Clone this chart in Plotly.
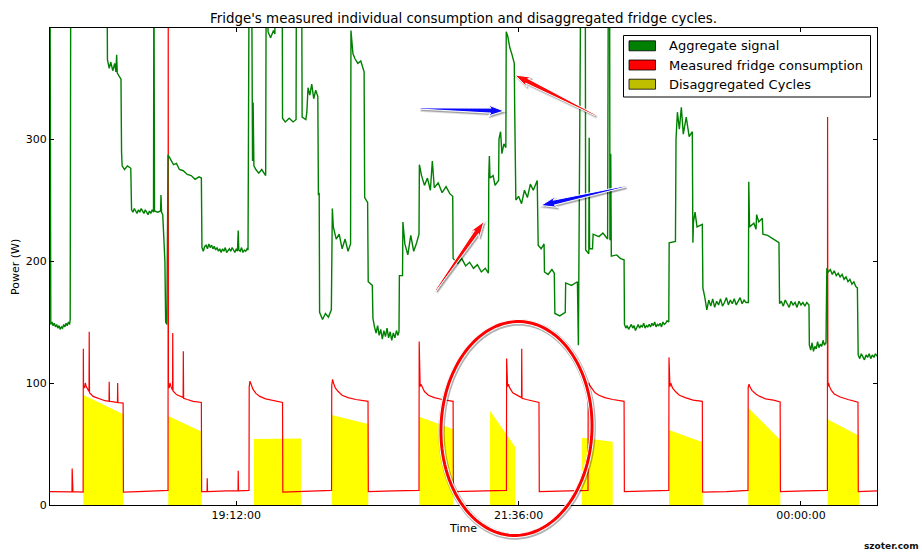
import numpy as np
import pandas as pd
import plotly.graph_objects as go

# ---------------------------------------------------------------- data
# time axis: minutes after 17:37:00
START = pd.Timestamp("2013-05-14 17:37:00")
SPAN_MIN = 421.8

# aggregate household signal: (minute, W)
agg_points = [
    (0.0, 460), (0.4, 148), (1.0, 150), (1.6, 147), (2.2, 149), (2.8, 146), (3.4, 148), (4.0, 145),
    (4.6, 147), (5.2, 144), (5.8, 146), (6.4, 145), (7.0, 148), (7.6, 146), (8.2, 149), (8.8, 147),
    (9.4, 150), (10.0, 148), (10.3, 152), (10.6, 460),
    (29.0, 460), (29.3, 365), (30.2, 358), (31.0, 363), (32.0, 356), (33.0, 362), (33.6, 355),
    (34.0, 369), (34.3, 354), (35.2, 352), (36.2, 349), (36.5, 289), (36.8, 278), (38.0, 275),
    (39.5, 278), (41.2, 276),
    (41.6, 242), (42.3, 240), (43.0, 243), (43.7, 241), (44.4, 239), (45.1, 242), (45.8, 240),
    (46.5, 243), (47.2, 241), (47.9, 239), (48.6, 242), (49.3, 240), (50.0, 238), (50.7, 241),
    (51.4, 239), (52.1, 242), (52.8, 240), (53.0, 460), (53.3, 241), (55.0, 240), (56.4, 241),
    (56.6, 254), (56.9, 240), (57.5, 238), (58.0, 212), (58.6, 200), (59.0, 150), (59.6, 148),
    (60.2, 287), (61.5, 283), (63.0, 279), (64.5, 280), (66.0, 275), (68.0, 274), (70.0, 271),
    (72.0, 270), (74.0, 267), (76.0, 269), (77.2, 268),
    (77.5, 211), (78.2, 208), (78.9, 212), (79.6, 213), (80.3, 210), (81.0, 214), (81.7, 211),
    (82.4, 213), (83.1, 210), (83.8, 212), (84.5, 209), (85.2, 211), (85.9, 208), (86.6, 210),
    (87.3, 207), (88.0, 210), (88.7, 208), (89.4, 211), (90.1, 207), (90.8, 209), (91.5, 210),
    (92.2, 208), (92.9, 211), (93.6, 209), (94.3, 207), (95.0, 210), (95.6, 208), (96.0, 225),
    (96.3, 209), (97.0, 208), (97.7, 211), (98.4, 207), (99.1, 209), (99.8, 208), (100.5, 210),
    (101.0, 209), (101.2, 369), (101.6, 460), (102.8, 460), (103.0, 336), (103.3, 282),
    (103.6, 330), (104.0, 278), (105.0, 275), (106.5, 272), (108.0, 275), (110.0, 270),
    (110.3, 460), (111.0, 460), (111.2, 388), (112.5, 383), (114.0, 389), (114.7, 386),
    (114.9, 460), (118.4, 460), (118.6, 317), (120.0, 314), (122.0, 317), (124.0, 314),
    (125.5, 316), (125.7, 460), (128.3, 460), (128.6, 318), (130.5, 316), (131.0, 322),
    (131.6, 342), (132.5, 336), (133.5, 345), (134.5, 333), (135.5, 340), (136.6, 335),
    (136.9, 254), (137.3, 256), (137.5, 158), (139.0, 152), (140.5, 157), (142.0, 154),
    (143.5, 160), (143.7, 238), (144.0, 243), (144.5, 228), (146.0, 218), (147.5, 222),
    (149.0, 210), (150.5, 218), (152.0, 208), (153.3, 214), (153.5, 389), (154.5, 370),
    (155.5, 366), (157.0, 362), (158.5, 364), (160.2, 355), (160.5, 252), (162.0, 248),
    (162.3, 183), (164.4, 180),
    (164.7, 153), (165.5, 146), (166.3, 141), (167.1, 147), (167.9, 139), (168.7, 144),
    (169.5, 136), (170.3, 143), (171.1, 138), (171.9, 145), (172.7, 137), (173.5, 142),
    (174.3, 135), (175.1, 141), (175.9, 137), (176.7, 143), (177.5, 139), (178.0, 142),
    (178.2, 188), (179.8, 188), (180.0, 232), (181.0, 214), (182.5, 205), (184.0, 221),
    (185.5, 208), (187.0, 215), (188.2, 222), (188.4, 279), (189.5, 270), (191.0, 262),
    (192.5, 268), (194.0, 258), (195.0, 282), (196.0, 260), (198.0, 264), (200.0, 256),
    (202.0, 261), (204.0, 255), (205.4, 253), (205.6, 202), (208.0, 198), (210.0, 202),
    (212.0, 196), (214.0, 199), (216.0, 194), (218.0, 197), (220.0, 191), (222.0, 194),
    (223.6, 190), (223.8, 270), (224.1, 286), (224.4, 268), (226.0, 270), (227.0, 262),
    (228.8, 266), (229.0, 300), (229.8, 306), (230.5, 288), (231.5, 296), (232.5, 293),
    (232.7, 388), (233.5, 384), (234.5, 375), (235.5, 370), (236.8, 362), (237.0, 326),
    (237.6, 250), (239.0, 253), (240.5, 247), (242.0, 258), (243.5, 252), (245.0, 263),
    (246.5, 258), (248.5, 266), (249.0, 213), (250.5, 210), (252.0, 214), (252.2, 191),
    (254.0, 189), (256.0, 193), (257.2, 190), (257.5, 157), (260.0, 155), (262.8, 158),
    (263.0, 182), (266.0, 180), (269.0, 183), (269.5, 131), (270.8, 460), (273.0, 460),
    (273.2, 209), (274.8, 206), (275.0, 301), (275.2, 210), (276.7, 210), (277.0, 222),
    (280.0, 220), (282.0, 223), (284.4, 218), (284.8, 460), (285.4, 460), (285.6, 217),
    (286.0, 288), (286.3, 204), (289.0, 205), (291.0, 202), (292.8, 201),
    (293.0, 148), (293.7, 145), (294.4, 147), (295.1, 144), (295.8, 146), (296.5, 148),
    (297.2, 145), (297.9, 147), (298.6, 143), (299.3, 146), (300.0, 148), (300.7, 145),
    (301.4, 147), (302.1, 146), (302.8, 149), (303.5, 145), (304.2, 147), (304.9, 146),
    (305.6, 148), (306.3, 146), (307.0, 149), (307.7, 147), (308.4, 150), (309.1, 146),
    (309.8, 148), (310.5, 147), (311.2, 149), (311.9, 146), (312.6, 150), (313.3, 148),
    (314.0, 149), (314.7, 151), (315.6, 150),
    (315.8, 215), (319.0, 216), (319.3, 300), (320.0, 322), (321.0, 308), (322.0, 326),
    (323.0, 304), (324.5, 318), (326.0, 302), (327.6, 306), (327.9, 215), (328.2, 232),
    (329.0, 240), (330.0, 228), (332.7, 230),
    (333.0, 178), (334.0, 170), (335.0, 160), (336.0, 168), (337.0, 163), (338.0, 169),
    (339.0, 162), (340.0, 167), (341.0, 164), (342.0, 169), (343.0, 163), (344.0, 166),
    (345.0, 170), (346.0, 164), (347.0, 168), (348.0, 165), (349.0, 169), (350.0, 164),
    (351.0, 167), (352.0, 170), (353.0, 165), (354.0, 168), (355.0, 166), (356.2, 166),
    (356.4, 265), (356.8, 228), (359.0, 231), (360.1, 226), (360.4, 238), (361.5, 232),
    (363.3, 235), (363.6, 222), (366.0, 221), (369.0, 218), (371.8, 215),
    (372.1, 165), (373.0, 167), (374.0, 163), (375.0, 168), (376.0, 165), (377.0, 162),
    (378.0, 167), (379.0, 164), (380.0, 166), (381.0, 162), (382.0, 167), (383.0, 164),
    (384.0, 166), (385.0, 163), (386.0, 166), (387.1, 164),
    (387.3, 131), (388.0, 127), (388.7, 133), (389.4, 126), (390.1, 130), (390.8, 128),
    (391.5, 134), (392.2, 129), (392.9, 132), (393.6, 130), (394.3, 135), (395.0, 131),
    (395.8, 133),
    (396.2, 194), (397.0, 191), (398.0, 193), (399.0, 189), (400.0, 192), (401.0, 188),
    (402.0, 190), (403.0, 187), (404.0, 189), (405.0, 185), (406.0, 187), (407.0, 183),
    (408.0, 185), (409.0, 181), (410.0, 183), (411.0, 179), (411.8, 178),
    (412.2, 123), (413.0, 120), (413.8, 124), (414.6, 121), (415.4, 119), (416.2, 123),
    (417.0, 121), (417.8, 124), (418.6, 120), (419.4, 123), (420.2, 121), (421.0, 124),
    (421.8, 122),
]

# measured fridge consumption: (minute, W)
fridge_points = [
    (0, 11), (11.2, 10.8), (11.3, 30), (11.5, 12), (11.7, 11), (16.9, 10.5),
    (17.0, 128), (17.1, 97), (17.6, 96), (18.0, 100), (18.5, 97), (19.2, 95), (19.9, 93),
    (20.0, 142), (20.15, 92), (22, 89), (25, 87), (28, 85.5), (30.1, 85), (30.2, 101),
    (30.35, 85), (32.5, 84.5), (34.4, 84), (34.5, 100), (34.65, 84), (37.3, 83.5),
    (37.45, 10.5), (45, 11), (55, 11.5), (60.2, 12),
    (60.3, 420), (60.4, 97), (60.8, 96), (61.2, 100), (61.7, 97), (62.5, 94), (62.6, 141),
    (62.75, 93.5), (64.5, 90.5), (66.5, 89), (67.9, 88), (68.0, 126), (68.15, 87.5),
    (70, 86.5), (73, 85), (77.2, 84), (77.35, 11), (80.1, 11), (80.2, 22), (80.35, 11),
    (90, 11.5), (95.9, 11.5), (96.0, 28), (96.15, 11.5), (101.5, 12),
    (101.6, 97), (102.0, 101.5), (102.5, 99), (103.5, 95), (105, 91.5), (107, 89),
    (110, 87), (114, 85.5), (118.6, 84), (118.75, 10.5), (130, 11), (143.6, 12),
    (143.7, 98), (144.1, 103), (144.6, 100), (145.5, 96), (147, 93), (149, 90), (152, 88),
    (156, 86.5), (162.2, 85), (162.35, 11), (175, 11.5), (188.2, 12),
    (188.3, 134), (188.45, 98), (188.8, 97), (189.2, 99), (190, 96), (191, 93), (193, 90),
    (196, 88), (200, 86.5), (205.6, 85), (205.75, 11), (220, 11.5), (232.8, 12),
    (232.9, 120), (233.05, 98), (233.4, 97), (233.8, 99), (234.5, 96), (236, 92), (238, 90),
    (240.5, 88), (240.6, 128), (240.75, 87.5), (243, 86.5), (246, 85.5), (249.4, 84),
    (249.55, 11), (262, 11.5), (274.4, 12),
    (274.5, 97), (274.9, 100), (275.3, 98), (276.5, 95), (278, 92), (280, 90), (283, 88),
    (287, 86.5), (292.8, 85), (292.95, 11), (305, 11.5), (315.6, 12),
    (315.7, 121), (315.85, 98), (316.2, 97), (316.6, 100), (317.5, 96), (319, 93), (321, 90),
    (324, 88), (328, 86), (332.7, 85), (332.85, 10.5), (345, 11), (356.0, 12),
    (356.1, 96), (356.5, 99), (357, 97), (358, 94), (360, 91), (362, 89), (365, 87), (369, 86),
    (372.4, 84.5), (372.55, 11), (385, 11.5), (396.5, 12),
    (396.6, 318), (396.75, 97), (397.1, 100), (397.6, 97), (398.5, 94), (400, 91),
    (403, 88.5), (407, 86.5), (412.1, 84.2), (412.25, 11), (421.8, 11.5),
]

# disaggregated fridge cycles: start/end minute and power at both ends (W)
cycle_start = [17.0, 60.3, 104.0, 143.7, 188.3, 224.4, 271.2, 315.7, 356.1, 396.6]
cycle_end = [37.4, 77.4, 128.0, 162.3, 205.7, 237.2, 287.0, 332.9, 372.5, 412.6]
cycle_w_start = [90.2, 73.0, 54.0, 73.8, 72.4, 77.3, 55.2, 61.5, 79.8, 70.3]
cycle_w_end = [74.4, 60.0, 54.5, 66.4, 62.0, 47.8, 51.9, 51.4, 53.3, 56.8]

tick_min = [95, 239, 383]
tick_labels = ["19:12:00", "21:36:00", "00:00:00"]
ytick_vals = [0, 100, 200, 300]

legend_labels = ["Aggregate signal", "Measured fridge consumption", "Disaggregated Cycles"]
legend_colors = ["#008000", "#ff0000", "#bfbf00"]


def clock(minutes):
    return [START + pd.Timedelta(minutes=float(m)) if m is not None else None for m in minutes]


agg_min, agg_w = zip(*agg_points)
fridge_min, fridge_w = zip(*fridge_points)

# ---------------------------------------------------------------- figure
W, H = 922, 552
PL, PR, PT, PB = 50, 877, 28, 505
FONT = "DejaVu Sans"


def fx(x):
    return (x - PL) / (PR - PL)


def fy(y):
    return (PB - y) / (PB - PT)


fig = go.Figure()

# yellow cycles as filled polygons
poly_t, poly_w = [], []
for s, e, ws, we in zip(cycle_start, cycle_end, cycle_w_start, cycle_w_end):
    poly_t += [s, s, e, e, s, None]
    poly_w += [0, ws, we, 0, 0, None]
fig.add_trace(go.Scatter(x=clock(poly_t), y=poly_w, mode="lines", fill="toself",
                         fillcolor="#ffff00", line=dict(width=0, color="#ffff00"),
                         hoverinfo="skip", showlegend=False))

fig.add_trace(go.Scatter(x=clock(fridge_min), y=list(fridge_w), mode="lines",
                         line=dict(color="#ff0000", width=1.2),
                         hoverinfo="skip", showlegend=False))

fig.add_trace(go.Scatter(x=clock(agg_min), y=list(agg_w), mode="lines",
                         line=dict(color="#008000", width=1.4),
                         hoverinfo="skip", showlegend=False))

axis_common = dict(showline=True, linecolor="#000000", linewidth=1, mirror="ticks",
                   ticks="inside", ticklen=4, tickwidth=1, tickcolor="#000000",
                   showgrid=False, zeroline=False,
                   tickfont=dict(family=FONT, size=11, color="#000000"))

fig.update_xaxes(type="date",
                 range=[START, START + pd.Timedelta(minutes=SPAN_MIN)],
                 tickvals=clock(tick_min), ticktext=tick_labels, **axis_common)
fig.update_yaxes(range=[0, 391], tickvals=ytick_vals,
                 ticktext=[str(v) for v in ytick_vals], **axis_common)

shapes = []
annotations = []

# title and axis titles
annotations.append(dict(text="Fridge's measured individual consumption and disaggregated fridge cycles.",
                        x=0.5, y=fy(18), xref="paper", yref="paper", showarrow=False,
                        xanchor="center", yanchor="middle",
                        font=dict(family=FONT, size=13.4, color="#000000")))
annotations.append(dict(text="Time", x=fx(463), y=fy(528), xref="paper", yref="paper",
                        showarrow=False, xanchor="center", yanchor="middle",
                        font=dict(family=FONT, size=11, color="#000000")))
annotations.append(dict(text="Power (W)", x=fx(15), y=fy(267), xref="paper", yref="paper",
                        showarrow=False, xanchor="center", yanchor="middle", textangle=-90,
                        font=dict(family=FONT, size=11, color="#000000")))

# legend box
shapes.append(dict(type="rect", xref="paper", yref="paper",
                   x0=fx(623.5), x1=fx(870.5), y0=fy(97), y1=fy(35.5),
                   line=dict(color="#000000", width=1), fillcolor="#ffffff", layer="above"))
for i, (lab, col) in enumerate(zip(legend_labels, legend_colors)):
    yc = 45.8 + i * 19.2
    shapes.append(dict(type="rect", xref="paper", yref="paper",
                       x0=fx(629), x1=fx(655.5), y0=fy(yc + 5), y1=fy(yc - 5),
                       line=dict(color="#000000", width=0.8), fillcolor=col, layer="above"))
    annotations.append(dict(text=lab, x=fx(666.5), y=fy(yc), xref="paper", yref="paper",
                            showarrow=False, xanchor="left", yanchor="middle",
                            font=dict(family=FONT, size=13, color="#000000")))


# hand-drawn callouts: tapered arrows and an ellipse with drop shadow
def arrow_pts(tail, tip, w_tail, w_neck, head_len, head_w):
    t = np.array(tail, float)
    p = np.array(tip, float)
    d = (p - t) / np.linalg.norm(p - t)
    n = np.array([-d[1], d[0]])
    neck = p - d * head_len
    back = neck - d * 3.0
    return [t + n * w_tail / 2, neck + n * w_neck / 2, back + n * head_w / 2, p,
            back - n * head_w / 2, neck - n * w_neck / 2, t - n * w_tail / 2]


def to_path(pts, dx=0.0, dy=0.0, close=True):
    s = "M " + " L ".join(f"{fx(x + dx):.5f},{fy(y + dy):.5f}" for x, y in pts)
    return s + (" Z" if close else "")


arrows = [
    ((420, 108.5), (504, 111), "#0a0aff"),
    ((625, 186.5), (541, 205.5), "#0a0aff"),
    ((595, 115), (515, 75), "#ff0a0a"),
    ((436, 290), (484, 221.5), "#ff0a0a"),
]
for tail, tip, col in arrows:
    pts = arrow_pts(tail, tip, 1.2, 5.0, 13, 11)
    shapes.append(dict(type="path", xref="paper", yref="paper", path=to_path(pts, 1.2, 1.8),
                       fillcolor="rgba(0,0,0,0.28)", line=dict(color="rgba(0,0,0,0.12)", width=2),
                       layer="above"))
    shapes.append(dict(type="path", xref="paper", yref="paper", path=to_path(pts),
                       fillcolor=col, line=dict(color="#ffffff", width=1.0), layer="above"))

cx, cy, ea, eb, phi = 516.5, 428.5, 75.5, 107.0, np.deg2rad(2.0)
th = np.linspace(0, 2 * np.pi, 121)
u, v = ea * np.cos(th), eb * np.sin(th)
ell = list(zip(cx + u * np.cos(phi) - v * np.sin(phi), cy + u * np.sin(phi) + v * np.cos(phi)))
shapes.append(dict(type="path", xref="paper", yref="paper", path=to_path(ell, 0.6, 1.0),
                   line=dict(color="rgba(0,0,0,0.3)", width=6.5), layer="above"))
shapes.append(dict(type="path", xref="paper", yref="paper", path=to_path(ell),
                   line=dict(color="#ffffff", width=5), layer="above"))
shapes.append(dict(type="path", xref="paper", yref="paper", path=to_path(ell),
                   line=dict(color="#ff0000", width=3), layer="above"))

annotations.append(dict(text="<b>szoter.com</b>", x=(W - 1 - PL) / (PR - PL), y=fy(546),
                        xref="paper", yref="paper", showarrow=False, xanchor="right",
                        yanchor="middle", font=dict(family=FONT, size=9, color="#111111")))

fig.update_layout(width=W, height=H, margin=dict(l=PL, r=W - PR, t=PT, b=H - PB),
                  paper_bgcolor="#ffffff", plot_bgcolor="#ffffff",
                  shapes=shapes, annotations=annotations, showlegend=False,
                  hovermode=False)

fig.write_html("out.html")
